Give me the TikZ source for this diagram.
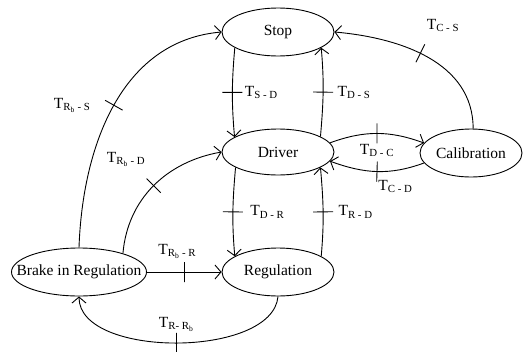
\documentclass[tikz,border=0pt]{standalone}
\usepackage{fontspec}
\setmainfont{Liberation Serif}
\usetikzlibrary{positioning,arrows.meta,shapes.geometric}
\newcommand{\tlab}[1]{T\textsubscript{#1}}

\begin{document}
\begin{tikzpicture}[
    x=1pt, y=1pt,
    font=\fontsize{15.5}{18}\selectfont,
    state/.style={draw, ellipse, line width=0.9pt, inner sep=0pt, minimum width=112pt, minimum height=48pt},
    trans/.style={line width=0.9pt, -{Straight Barb[length=6pt, width=14pt]}},
    tick/.style={draw, sloped, line width=0.9pt, inner sep=0pt, minimum width=0pt, minimum height=20pt},
    lbl/.style={inner sep=1pt}
]
    \useasboundingbox (0,0) rectangle (524,-351);

    \node[state] (stop) at (278,-32) {Stop};
    \node[state, minimum height=46pt] (driver) at (278,-152) {Driver};
    \node[state] (regul) at (278,-272) {Regulation};
    \node[state, minimum width=102pt] (calib) at (471,-153) {Calibration};
    \node[state, minimum width=135pt] (brake) at (79,-272) {\makebox[0pt]{Brake in Regulation}};

    % stop <-> driver
    \draw[trans] (stop.200) to[out=-95, in=95]
        node[tick, midway] {} node[lbl, midway, right=11pt] {\tlab{S - D}} (driver.161);
    \draw[trans] (driver.20) to[out=85, in=-85]
        node[tick, midway] {} node[lbl, midway, right=13pt] {\tlab{D - S}} (stop.-20);

    % driver <-> regulation
    \draw[trans] (driver.200) to[out=-95, in=95]
        node[tick, midway] {} node[lbl, midway, right=16pt] {\tlab{D - R}} (regul.160);
    \draw[trans] (regul.20) to[out=85, in=-85]
        node[tick, midway] {} node[lbl, midway, right=14pt] {\tlab{R - D}} (driver.-20);

    % driver <-> calibration
    \draw[trans] (driver.10) to[out=20, in=160]
        node[tick, midway] {} node[lbl, midway, below=9pt] {\tlab{D - C}} (calib.168);
    \draw[trans] (calib.192) to[out=-160, in=-20]
        node[tick, midway] {} node[lbl, midway, below right=7pt and 0pt] {\tlab{C - D}} (driver.-10);

    % calibration -> stop
    \draw[trans] (calib.85) to[out=90, in=-5]
        node[tick, pos=.55] {} node[lbl, pos=.55, above right=20pt and 5pt] {\tlab{C - S}} (stop.east);

    % brake in regulation
    \draw[trans] (brake.north) to[out=88, in=185]
        node[tick, midway] {} node[lbl, midway, left=22pt] {\tlab{R\textsubscript{b} - S}} (stop.west);
    \draw[trans] (brake.23) to[out=85, in=190]
        node[tick, midway] {} node[lbl, midway, above left=18pt and 7pt] {\tlab{R\textsubscript{b} - D}} (driver.west);
    \draw[trans] (brake.east) --
        node[tick, midway] {} node[lbl, midway, above=12pt, xshift=-7pt] {\tlab{R\textsubscript{b} - R}} (regul.west);
    \draw[trans] (regul.south) to[out=-95, in=-90, looseness=0.8]
        node[tick, midway] {} node[lbl, midway, above=10pt] {\tlab{R- R\textsubscript{b}}} (brake.south);
\end{tikzpicture}
\end{document}
